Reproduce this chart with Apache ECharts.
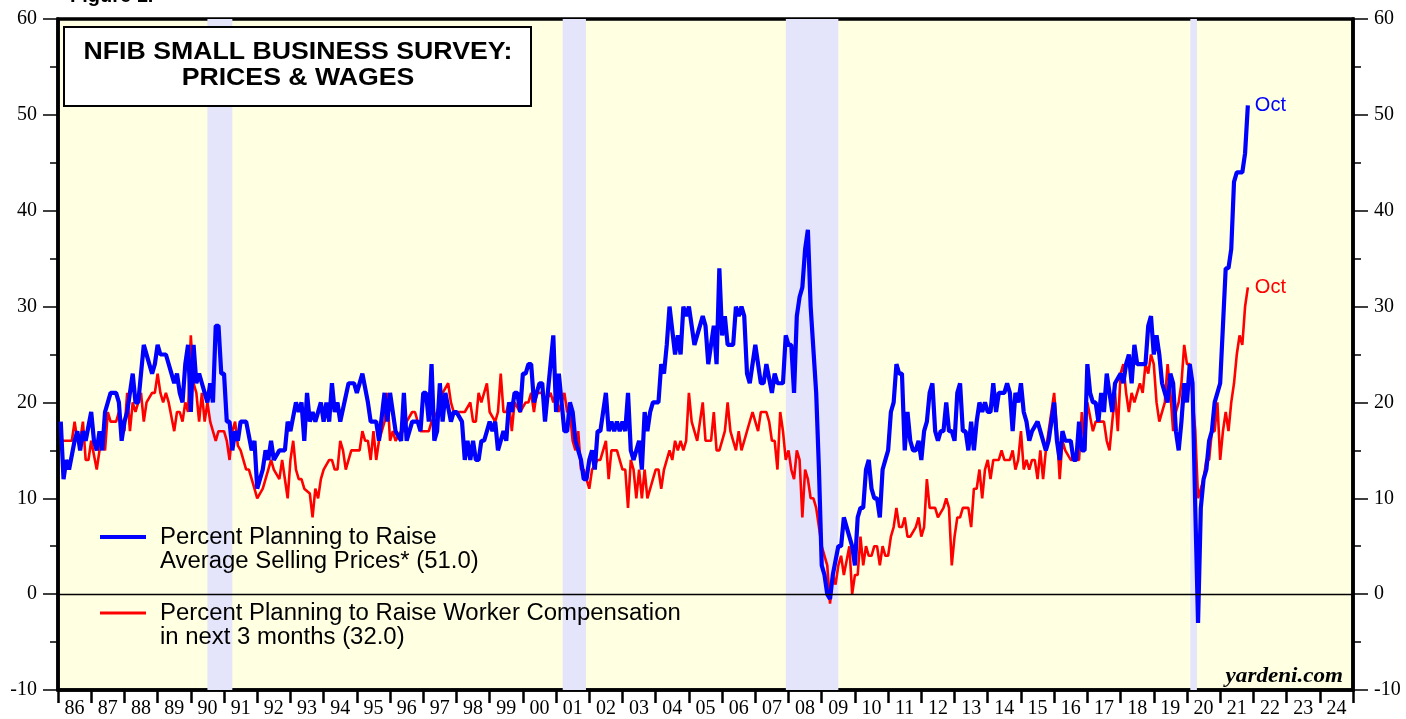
<!DOCTYPE html>
<html>
<head>
<meta charset="utf-8">
<title>NFIB Small Business Survey: Prices & Wages</title>
<script src="https://cdn.jsdelivr.net/npm/echarts@6/dist/echarts.min.js"></script>
<style>
	html, body { margin: 0; padding: 0; background: #fff; }
	#chart { width: 1406px; height: 719px; }
</style>
</head>
<body>
<div id="chart"></div>
<script>
// year labels under the x axis, one per band
const yearLabels = [
	'86', '87', '88', '89', '90', '91', '92', '93', '94', '95', '96', '97', '98', '99',
	'00', '01', '02', '03', '04', '05', '06', '07', '08', '09', '10', '11', '12', '13',
	'14', '15', '16', '17', '18', '19', '20', '21', '22', '23', '24'
]

// recessions, in decimal years
const recessions = [
	[ 1990.5, 1991.25 ],
	[ 2001.2, 2001.9 ],
	[ 2007.92, 2009.5 ],
	[ 2020.1, 2020.3 ]
]

// [month number (Jan 1986 = 1), percent]
// percent planning to raise average selling prices
const pricePlans = [
	[1,18],[2,12],[3,14],[4,13],[6,16],[7,17],[8,15],[9,17],[10,16],[12,19],
	[13,16],[14,15],[15,17],[16,15],[17,19],[19,21],[21,21],[22,20],[23,16],[24,18],
	[25,19],[27,23],[28,20],[29,20],[31,26],[33,24],[34,23],[35,24],[36,26],
	[37,25],[39,25],[41,23],[42,22],[43,23],[44,21],[45,20],[46,24],[47,26],[48,19],
	[49,26],[50,22],[51,23],[52,22],[54,20],[55,22],[56,20],[57,28],[58,28],[59,23],[60,23],
	[61,18],[62,18],[63,15],[64,17],[65,16],[66,18],[68,18],[70,15],[71,16],[72,11],
	[74,13],[75,15],[76,14],[77,16],[78,14],[80,15],[82,15],[83,18],[84,17],
	[86,20],[87,19],[88,20],[89,16],[90,21],[91,18],[92,19],[93,18],[95,20],[96,18],
	[97,20],[98,18],[99,22],[100,19],[101,20],[102,18],[105,22],[107,22],[108,21],
	[110,23],[112,20],[113,18],[115,18],[116,16],[118,21],[119,18],[120,21],
	[122,17],[124,16],[125,21],[126,16],[128,18],[130,18],[131,17],[132,21],
	[133,21],[134,18],[135,24],[136,16],[137,17],[138,22],[139,18],[140,21],[142,18],[143,19],[144,19],
	[146,18],[147,14],[148,16],[149,14],[150,16],[151,14],[152,14],[153,16],[154,16],[156,18],
	[157,17],[158,18],[159,15],[161,17],[162,16],[163,20],[164,19],[165,21],[166,21],[167,19],[168,23],
	[169,23],[170,24],[171,24],[172,20],[174,22],[175,22],[176,18],[178,24],[179,27],[180,19],
	[181,23],[182,20],[183,17],[184,17],[185,20],[186,19],[187,16],[189,14],[190,12],[191,12],[192,14],
	[193,15],[194,13],[195,17],[196,17],[198,21],[199,17],[200,18],[201,17],[202,18],[203,17],[204,18],
	[205,17],[206,21],[207,15],[208,14],[209,15],[210,16],[211,13],[212,19],[213,17],[214,19],[215,20],
	[217,20],[218,24],[219,23],[220,26],[221,30],[223,25],[224,27],[225,25],[226,30],[227,29],[228,30],
	[230,26],[233,29],[234,28],[235,24],[237,28],[238,24],[239,34],[240,27],
	[241,29],[242,26],[244,26],[245,30],[246,29],[247,30],[248,29],[249,23],[250,22],[252,26],
	[254,22],[255,22],[256,24],[258,21],[259,23],[260,22],[262,22],[263,27],[264,26],
	[265,26],[266,21],[267,29],[268,31],[269,32],[270,36],[271,38],[272,30],[274,21],[275,13],[276,3],
	[277,2],[278,0],[279,-0.5],[280,2],[282,5],[283,5],[284,8],[285,7],[287,5],[288,3],
	[289,8],[290,9],[291,9],[292,13],[293,14],[294,11],[295,10],[296,10],[297,8],[298,13],[299,14],[300,15],
	[301,19],[302,20],[303,24],[304,23],[305,23],[306,15],[307,19],[308,16],[309,15],[310,15],[311,16],[312,14],
	[313,17],[314,18],[315,21],[316,22],[317,17],[318,16],[319,17],[320,17],[321,20],[322,17],[323,17],[324,16],
	[325,21],[326,22],[327,17],[328,17],[329,15],[330,18],[331,15],[332,18],[333,20],[334,19],[335,20],[336,19],
	[337,19],[338,22],[339,19],[340,21],[342,21],[343,22],[344,21],[345,17],[346,21],[347,20],[348,22],
	[349,19],[350,18],[351,16],[352,17],[354,18],[355,17],[357,15],[358,16],[359,18],[360,20],
	[361,16],[362,14],[363,17],[364,16],[366,16],[367,14],[368,14],[369,18],[370,15],[371,15],[372,24],
	[373,21],[374,20],[375,20],[376,18],[377,21],[378,19],[379,23],[380,21],[381,19],[382,22],[384,23],
	[385,22],[386,24],[387,25],[388,22],[389,26],[390,24],[393,24],[394,28],[395,29],[396,25],
	[397,27],[398,25],[399,22],[401,20],[402,23],[403,22],[404,17],[405,15],[406,18],[407,22],[408,20],
	[409,24],[410,22],[411,9],[412,-3],[413,9],[414,12],[415,13],[416,16],[417,17],[418,20],[419,21],[420,22],
	[421,28],[422,34],[423,34],[424,36],[425,43],[426,44],[427,44],[428,44],[429,46],[430,51]
]

// percent planning to raise worker compensation in next 3 months
const compPlans = [
	[1,16],[2,16],[3,16],[4,16],[5,16],[6,18],[7,16],[8,16],[9,18],[10,14],[11,14],[12,16],
	[14,13],[15,15],[16,16],[17,15],[18,19],[19,18],[21,18],[22,19],[24,17],
	[25,21],[26,17],[27,20],[28,19],[30,21],[31,18],[32,20],[34,21],[35,21],[36,23],
	[37,21],[38,20],[39,21],[40,20],[42,17],[43,19],[44,19],[45,18],[46,20],[47,19],[48,27],
	[49,22],[50,21],[51,18],[52,21],[53,18],[54,20],[55,18],[57,16],[58,17],[60,17],
	[61,16],[62,14],[63,17],[64,18],[65,15.5],[66,15],[68,13],[69,13],[70,12],[71,11],[72,10],
	[74,11],[75,12],[76,13],[77,14],[78,13],[80,12],[81,14],[83,10],[84,14],
	[85,16],[86,13],[87,12],[88,12],[89,11],[91,10.5],[92,8],[93,11],[94,10],[95,12],[96,13],
	[98,14],[99,14],[100,13],[101,13],[102,16],[103,15],[104,13],[105,14],[106,15],[107,15],
	[109,15],[110,17],[111,16],[112,16],[113,14],[114,17],[115,14],[116,16],[118,18],[119,21],[120,16],
	[121,17],[122,16],[124,17],[125,17],[126,18],[128,19],[129,19],[130,18],[131,17],[133,17],[134,17],[135,18],
	[137,19],[138,20],[139,21],[141,22],[142,20],[143,19],[145,19],[147,19],
	[149,20],[150,18],[151,18],[152,21],[153,20],[155,22],[156,19],[158,18],[159,19],[160,23],
	[161,19],[162,19],[163,20],[164,17],[165,20],[167,19],[169,20],[170,20],[171,21],[172,19],
	[173,21],[174,21],[175,21],[176,20],[178,21],[179,20],[180,21],[181,19],[183,21],[184,19],
	[185,19],[186,16],[187,15],[188,17],[189,13],[190,13],[192,11],[193,13],[195,14],[196,14],
	[197,15],[198,16],[199,12],[200,15],[201,15],[202,15],[204,13],[205,13],[206,9],[207,14],[208,13],
	[209,10],[210,13],[211,10],[212,13],[213,10],[215,12],[216,13],[217,13],[218,11],[219,13],
	[221,15],[222,14],[223,16],[224,15],[225,16],[226,15],[227,16],[228,21],[229,18],[231,16],[232,18],
	[233,20],[234,16],[235,16],[236,16],[237,19],[238,15],[239,15],[240,16],[241,17],[242,20],[243,17],[244,16],
	[245,15],[246,17],[247,15],[248,16],[249,17],[251,19],[252,18],[253,17],[254,19],[255,19],[256,19],
	[257,18],[258,16],[259,16],[260,13],[261,19],[262,17],[263,14],[264,15],[265,13],[266,12],[267,15],[268,14],
	[269,8],[270,13],[271,12],[272,10],[273,10],[274,9],[276,5],[277,4],[278,3],[279,-1],[280,2],
	[281,1],[282,3],[283,4],[284,2],[286,5],[287,0],[288,2],[289,2],[290,6],[291,3],[292,5],
	[293,4],[294,4],[295,5],[296,5],[297,3],[298,5],[299,4],[300,4],[301,6],[302,7],[303,9],[304,7],
	[305,7],[306,8],[307,6],[308,6],[310,7],[311,8],[312,6],[313,7],[314,12],[315,9],[316,9],
	[317,9],[318,8],[320,9],[321,10],[322,9],[323,3],[324,6],[325,8],[326,8],[327,9],[328,9],
	[329,9],[330,7],[331,11],[332,11],[333,13],[334,10],[335,13],[336,14],[337,12],[338,14],[339,14],[340,14],
	[341,15],[342,14],[344,14],[345,15],[346,13],[347,14],[348,17],[349,13],[350,14],[351,13],[352,14],
	[353,14],[354,12],[355,15],[356,12],[357,15],[358,17],[359,19],[360,21],[361,17],[362,12],[363,16],[364,15],
	[366,14],[368,14],[369,14],[370,19],[371,15],[372,20],[374,17],[375,18],[378,18],[379,16],[380,15],
	[381,18],[382,21],[383,17],[384,23],[385,24],[386,21],[387,19],[388,21],[389,20],[391,22],[392,21],
	[393,24],[394,23],[395,25],[396,24],[397,20],[398,18],[400,20],[401,24],[402,21],[403,17],[404,19],
	[405,20],[406,22],[407,26],[408,24],[409,24],[411,17],[412,10],[414,12],[415,14],[416,14],[417,17],
	[418,17],[419,20],[420,14],[421,17],[422,19],[423,17],[424,20],[425,22],[426,25],[427,27],[428,26],
	[429,30],[430,32]
]

const toYear = (m) => 1986 + m / 12
const serif = '"Liberation Serif", "Times New Roman", serif'
const sans = '"Liberation Sans", Arial, sans-serif'

const yAxisBase = {
	type: 'value',
	min: -10,
	max: 60,
	interval: 10,
	axisLine: { show: true, onZero: false, lineStyle: { color: '#000', width: 3.5 } },
	axisTick: { show: true, inside: false, length: 15, lineStyle: { color: '#000', width: 1.5 } },
	minorTick: { show: true, splitNumber: 2, length: 8, lineStyle: { color: '#000', width: 1.5 } },
	splitLine: { show: false },
	axisLabel: { color: '#000', fontFamily: serif, fontSize: 20, margin: 21 }
}

const chart = echarts.init(document.getElementById('chart'))

chart.setOption({
	animation: false,
	backgroundColor: '#fff',
	grid: {
		left: 58,
		right: 53,
		top: 19,
		bottom: 28,
		show: true,
		backgroundColor: '#ffffe2',
		borderColor: '#000',
		borderWidth: 3.5
	},
	xAxis: [
		{
			type: 'category',
			data: yearLabels,
			boundaryGap: true,
			axisLine: { show: true, onZero: false, lineStyle: { color: '#000', width: 3.5 } },
			axisTick: { show: true, inside: false, length: 13, interval: 0, lineStyle: { color: '#000', width: 2.5 } },
			axisLabel: { interval: 0, color: '#000', fontFamily: serif, fontSize: 20, margin: 9 },
			splitLine: { show: false }
		},
		{
			type: 'value',
			min: 1986,
			max: 2025,
			show: false
		}
	],
	yAxis: [
		{ ...yAxisBase, position: 'left' },
		{ ...yAxisBase, position: 'right' }
	],
	series: [
		{
			// recession bands and zero line
			type: 'line',
			xAxisIndex: 1,
			data: [],
			z: 1,
			silent: true,
			markArea: {
				silent: true,
				itemStyle: { color: '#e4e4fa' },
				data: recessions.map((r) => [ { xAxis: r[0] }, { xAxis: r[1] } ])
			},
			markLine: {
				silent: true,
				symbol: [ 'none', 'none' ],
				label: { show: false },
				lineStyle: { color: '#000', width: 1.3, type: 'solid' },
				data: [ { yAxis: 0 } ]
			}
		},
		{
			name: 'Compensation',
			type: 'line',
			xAxisIndex: 1,
			data: compPlans.map(([ m, v ]) => [ toYear(m), v ]),
			showSymbol: false,
			z: 3,
			lineStyle: { color: '#ff0000', width: 2.6 },
			endLabel: { show: true, formatter: 'Oct', color: '#ff0000', fontFamily: sans, fontSize: 20, distance: 7 }
		},
		{
			name: 'Prices',
			type: 'line',
			xAxisIndex: 1,
			data: pricePlans.map(([ m, v ]) => [ toYear(m), v ]),
			showSymbol: false,
			z: 4,
			lineStyle: { color: '#0000ff', width: 4.2 },
			endLabel: { show: true, formatter: 'Oct', color: '#0000ff', fontFamily: sans, fontSize: 20, distance: 7 }
		}
	],
	graphic: [
		{
			type: 'text',
			left: 70,
			top: -14,
			style: { text: 'Figure 1.', font: 'bold 20px ' + sans, fill: '#000' }
		},
		{
			type: 'rect',
			shape: { x: 64, y: 27, width: 467, height: 79 },
			style: { fill: '#fff', stroke: '#000', lineWidth: 2 },
			z: 10
		},
		{
			type: 'text',
			x: 298,
			y: 66,
			scaleX: 1.16,
			z: 11,
			style: {
				text: 'NFIB SMALL BUSINESS SURVEY:\nPRICES & WAGES',
				font: 'bold 23px ' + sans,
				lineHeight: 26,
				align: 'center',
				verticalAlign: 'middle',
				fill: '#000'
			}
		},
		// legend
		{
			type: 'line',
			shape: { x1: 100, y1: 537, x2: 146, y2: 537 },
			style: { stroke: '#0000ff', lineWidth: 4 },
			z: 10
		},
		{
			type: 'text',
			x: 160,
			y: 550,
			scaleX: 1.04,
			z: 10,
			style: {
				text: 'Percent Planning to Raise\nAverage Selling Prices* (51.0)',
				font: '23px ' + sans,
				lineHeight: 24,
				verticalAlign: 'middle',
				fill: '#000'
			}
		},
		{
			type: 'line',
			shape: { x1: 100, y1: 613, x2: 146, y2: 613 },
			style: { stroke: '#ff0000', lineWidth: 3 },
			z: 10
		},
		{
			type: 'text',
			x: 160,
			y: 626,
			scaleX: 1.04,
			z: 10,
			style: {
				text: 'Percent Planning to Raise Worker Compensation\nin next 3 months (32.0)',
				font: '23px ' + sans,
				lineHeight: 24,
				verticalAlign: 'middle',
				fill: '#000'
			}
		},
		{
			type: 'text',
			x: 1343,
			y: 677,
			scaleX: 1.1,
			z: 10,
			style: {
				text: 'yardeni.com',
				font: 'italic bold 21px ' + serif,
				align: 'right',
				verticalAlign: 'middle',
				fill: '#000'
			}
		}
	]
})
</script>
</body>
</html>
